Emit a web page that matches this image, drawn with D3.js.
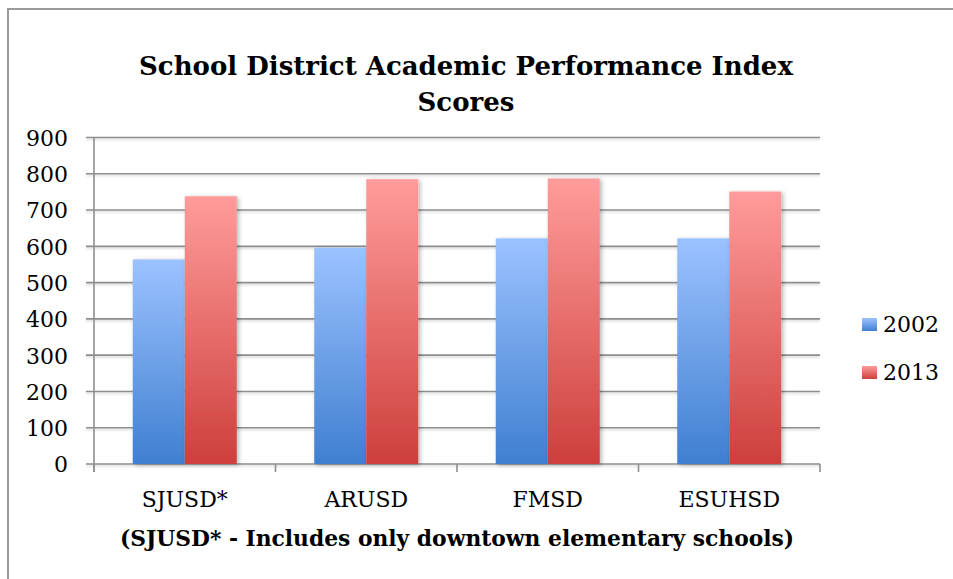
<!DOCTYPE html>
<html>
<head>
  <title>School District API Scores</title>
  <script src="https://d3js.org/d3.v7.min.js"></script>
  <style>
    body { margin: 0; background: #fff; }
    text { font-family: "DejaVu Serif", serif; fill: #000; }
  </style>
</head>
<body>
<svg id="chart"></svg>
<script>

  var width = 953;
  var height = 579;

  // data
  var districts = ["SJUSD*", "ARUSD", "FMSD", "ESUHSD"];
  var years = ["2002", "2013"];
  var scores2002 = [564, 596, 622, 622];
  var scores2013 = [738, 785, 787, 751];
  var yTicks = [0, 100, 200, 300, 400, 500, 600, 700, 800, 900];

  var rows = districts.map((d, i) => ({ district: d, values: [scores2002[i], scores2013[i]] }));

  var svg = d3.select("#chart")
    .attr("width", width)
    .attr("height", height);

  var defs = svg.append("defs");

  // one gradient per series, applied per bar (objectBoundingBox)
  var grads = [["#9cc2ff", "#3f7fd0"], ["#ff9c9b", "#cd3f3c"]];
  grads.forEach(function(c, i) {
    var lg = defs.append("linearGradient")
      .attr("id", "grad" + i)
      .attr("x1", 0).attr("y1", 0).attr("x2", 0).attr("y2", 1);
    lg.append("stop").attr("offset", "0%").attr("stop-color", c[0]);
    lg.append("stop").attr("offset", "100%").attr("stop-color", c[1]);
  });

  var shadow = defs.append("filter").attr("id", "shadow")
    .attr("x", "-20%").attr("y", "-20%").attr("width", "140%").attr("height", "140%");
  shadow.append("feDropShadow")
    .attr("dx", 2).attr("dy", 1).attr("stdDeviation", 2)
    .attr("flood-color", "#000").attr("flood-opacity", 0.28);

  var lineShadow = defs.append("filter").attr("id", "lineShadow")
    .attr("x", "-5%").attr("y", "-200%").attr("width", "110%").attr("height", "500%");
  lineShadow.append("feDropShadow")
    .attr("dx", 0).attr("dy", 1.5).attr("stdDeviation", 0.8)
    .attr("flood-color", "#000").attr("flood-opacity", 0.18);

  // chart frame (runs off the right and bottom edges)
  svg.append("rect")
    .attr("x", 8).attr("y", 9)
    .attr("width", 960).attr("height", 600)
    .attr("fill", "none")
    .attr("stroke", "#9a9a9a")
    .attr("stroke-width", 2);

  var margin = { left: 94, right: 133, top: 137.5, bottom: 115 };
  var plotW = width - margin.left - margin.right;
  var plotH = height - margin.top - margin.bottom;

  var g = svg.append("g")
    .attr("transform", "translate(" + margin.left + "," + margin.top + ")");

  var x0 = d3.scaleBand()
    .domain(districts)
    .range([0, plotW])
    .paddingInner(0.427)
    .paddingOuter(0.2135);

  var x1 = d3.scaleBand()
    .domain(years)
    .range([0, x0.bandwidth()]);

  var y = d3.scaleLinear()
    .domain([0, 900])
    .range([plotH, 0]);

  // gridlines
  g.append("g")
    .attr("filter", "url(#lineShadow)")
    .selectAll("line")
    .data(yTicks)
    .enter()
    .append("line")
    .attr("x1", -8)
    .attr("x2", plotW)
    .attr("y1", d => y(d))
    .attr("y2", d => y(d))
    .attr("stroke", "#8e8e8e")
    .attr("stroke-width", 1.6);

  // y axis labels
  var yAxis = g.append("g")
    .call(d3.axisLeft(y).tickValues(yTicks).tickSize(0).tickPadding(26));
  yAxis.select(".domain").remove();
  yAxis.selectAll("text")
    .style("font-family", "'DejaVu Serif', serif")
    .style("font-size", "22px")
    .attr("dy", "0.36em");

  // bars
  var groups = g.selectAll(".grp")
    .data(rows)
    .enter()
    .append("g")
    .attr("class", "grp")
    .attr("transform", d => "translate(" + x0(d.district) + ",0)");

  groups.selectAll("rect")
    .data(d => d.values.map((v, i) => ({ year: years[i], value: v, i: i })))
    .enter()
    .append("rect")
    .attr("x", d => x1(d.year))
    .attr("width", x1.bandwidth())
    .attr("y", d => y(d.value))
    .attr("height", d => y(0) - y(d.value))
    .attr("fill", d => "url(#grad" + d.i + ")")
    .attr("filter", "url(#shadow)");

  // y axis line
  g.append("line")
    .attr("x1", 0).attr("x2", 0)
    .attr("y1", 0).attr("y2", plotH + 8)
    .attr("stroke", "#8e8e8e")
    .attr("stroke-width", 1.6);

  // x axis ticks at category boundaries
  var stepBounds = d3.range(districts.length + 1).map(i => i * plotW / districts.length);
  g.append("g")
    .selectAll("line")
    .data(stepBounds)
    .enter()
    .append("line")
    .attr("x1", d => d).attr("x2", d => d)
    .attr("y1", plotH).attr("y2", plotH + 8)
    .attr("stroke", "#8e8e8e")
    .attr("stroke-width", 1.6);

  // category labels
  g.append("g")
    .selectAll("text")
    .data(districts)
    .enter()
    .append("text")
    .attr("x", d => x0(d) + x0.bandwidth() / 2)
    .attr("y", plotH + 43)
    .attr("text-anchor", "middle")
    .style("font-size", "22px")
    .text(d => d);

  // x axis title
  svg.append("text")
    .attr("x", margin.left + plotW / 2)
    .attr("y", 546)
    .attr("text-anchor", "middle")
    .style("font-size", "21.8px")
    .style("font-weight", "bold")
    .text("(SJUSD* - Includes only downtown elementary schools)");

  // title
  var title = svg.append("text")
    .attr("text-anchor", "middle")
    .style("font-size", "26px")
    .style("font-weight", "bold");
  title.append("tspan").attr("x", 466).attr("y", 75)
    .text("School District Academic Performance Index");
  title.append("tspan").attr("x", 466).attr("y", 111)
    .text("Scores");

  // legend
  var legend = svg.append("g")
    .selectAll("g")
    .data(years)
    .enter()
    .append("g")
    .attr("transform", (d, i) => "translate(862," + (318 + i * 48) + ")");

  legend.append("rect")
    .attr("width", 15)
    .attr("height", 13)
    .attr("fill", (d, i) => "url(#grad" + i + ")");

  legend.append("text")
    .attr("x", 21)
    .attr("y", 14)
    .style("font-size", "22px")
    .text(d => d);

</script>
</body>
</html>
